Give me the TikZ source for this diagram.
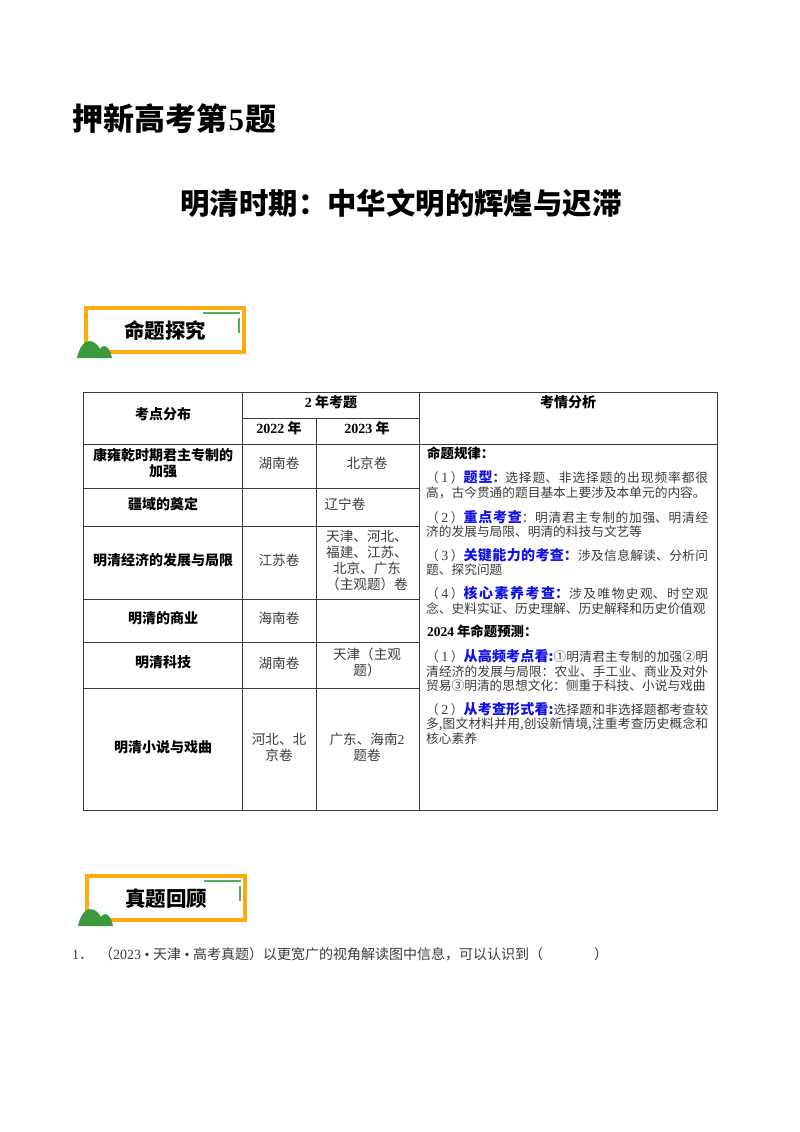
\documentclass[tikz,border=0pt]{standalone}
\usepackage{fontspec}
\setmainfont{Noto Sans CJK SC}
\newfontfamily\lat{Liberation Serif}
\XeTeXlinebreaklocale "zh"
\XeTeXlinebreakskip=0pt plus 2pt
\definecolor{framegold}{HTML}{FFAA0D}
\definecolor{hillgreen}{HTML}{3C9A3C}
\definecolor{tickgreen}{HTML}{55AE5A}
\definecolor{inkgray}{HTML}{3A3A3A}
\definecolor{keyblue}{HTML}{1010E8}
\newcommand{\yr}[1]{{\lat #1}}
\newcommand{\num}[1]{（\kern2.5pt{\lat\fontsize{14}{14.7}\selectfont #1}\kern2.5pt）}
\newcommand{\key}[1]{{\fontsize{14}{14.7}\selectfont\bfseries\color{keyblue}#1}}
\newcommand{\badge}[4]{%
  \begin{scope}[shift={(#1,#2)}]
    \draw[framegold, line width=4pt] (0,0) rectangle (158,44);
    \draw[tickgreen, line width=1.4pt] (117,5) -- (154,5);
    \draw[tickgreen, line width=1.4pt] (153,10) -- (153,25);
    \fill[hillgreen] (-9,50) .. controls (-7,40) and (-2,33) .. (3,33) .. controls (8,33) and (12,37) .. (14,41) .. controls (15,39) and (17,38) .. (18,38) .. controls (22,38) and (25,44) .. (26,50) -- cycle;
    \node[badgetext] (#3) at (79,23) {#4};
  \end{scope}}
\begin{document}
\begin{tikzpicture}[x=1pt, y=-1pt,
    rule/.style={draw=inkgray, line width=0.9pt},
    cell/.style={align=center, inner sep=0pt, text=inkgray, font=\fontsize{13.6}{16}\selectfont},
    head/.style={align=center, inner sep=0pt, font=\fontsize{14}{16}\selectfont\bfseries},
    para/.style={anchor=north west, inner sep=0pt, text width=282pt, align=justify, text=inkgray, font=\fontsize{12.7}{14.7}\selectfont},
    badgetext/.style={inner sep=0pt, font=\fontsize{20.5}{22}\selectfont\bfseries}]
  \useasboundingbox (0,0) rectangle (800,1132);
  \node[anchor=west, inner sep=0pt, font=\fontsize{31}{34}\selectfont\bfseries] (maintitle) at (72,119) {押新高考第\kern1.5pt\yr{5}\kern1.5pt题};
  \node[inner sep=0pt, font=\fontsize{29.4}{32}\selectfont\bfseries] (subtitle) at (401,203) {明清时期：中华文明的辉煌与迟滞};
  \badge{86}{308}{badgeone}{命题探究}
  \badge{87}{876}{badgetwo}{真题回顾}
  % table frame
  \draw[rule] (83,392) rectangle (717,810);
  \draw[rule] (242,392) -- (242,810);
  \draw[rule] (316,418) -- (316,810);
  \draw[rule] (419,392) -- (419,810);
  \draw[rule] (242,418) -- (419,418);
  \draw[rule] (83,444) -- (717,444);
  \foreach \rowy in {488,526,599,642,688}
    \draw[rule] (83,\rowy) -- (419,\rowy);
  % header
  \node[head] (points) at (163,414) {考点分布};
  \node[head] (twoyear) at (331,402) {\yr{2} 年考题};
  \node[head] (ytwo) at (279,428) {\yr{2022} 年};
  \node[head] (ythree) at (367,428) {\yr{2023} 年};
  \node[head] (analysis) at (568,402) {考情分析};
  % rows
  \node[head] (kang) at (163,463) {康雍乾时期君主专制的\\加强};
  \node[cell] (kangb) at (279,463) {湖南卷};
  \node[cell] (kangc) at (367,463) {北京卷};
  \node[head] (jiang) at (163,504) {疆域的奠定};
  \node[cell] (jiangc) at (345,504) {辽宁卷};
  \node[head] (econ) at (163,560) {明清经济的发展与局限};
  \node[cell] (econb) at (279,560) {江苏卷};
  \node[cell] (econc) at (367,560) {天津、河北、\\福建、江苏、\\北京、广东\\（主观题）卷};
  \node[head] (trade) at (163,618) {明清的商业};
  \node[cell] (tradeb) at (279,618) {海南卷};
  \node[head] (tech) at (163,662) {明清科技};
  \node[cell] (techb) at (279,663) {湖南卷};
  \node[cell] (techc) at (367,662) {天津（主观\\题）};
  \node[head] (novel) at (163,747) {明清小说与戏曲};
  \node[cell] (novelb) at (279,747) {河北、北\\京卷};
  \node[cell] (novelc) at (367,747) {广东、海南\yr{2}\\题卷};
  % analysis column
  \node[para, text=black, font=\fontsize{13.4}{15}\selectfont\bfseries] (rules) at (427,447) {命题规律：};
  \node[para] (ruleone) at (426,471) {\num{1}\key{题型}\textbf{：}选择题、非选择题的出现频率都很高，古今贯通的题目基本上要涉及本单元的内容。};
  \node[para] (ruletwo) at (426,510) {\num{2}\key{重点考查}：明清君主专制的加强、明清经济的发展与局限、明清的科技与文艺等};
  \node[para] (rulethree) at (426,548) {\num{3}\key{关键能力的考查：}涉及信息解读、分析问题、探究问题};
  \node[para] (rulefour) at (426,586) {\num{4}\key{核心素养考查：}涉及唯物史观、时空观念、史料实证、历史理解、历史解释和历史价值观};
  \node[para, text=black, font=\fontsize{13.4}{15}\selectfont\bfseries] (forecast) at (427,625) {\yr{2024} 年命题预测：};
  \node[para] (foreone) at (426,649) {\num{1}\key{从高频考点看:}①明清君主专制的加强②明清经济的发展与局限：农业、手工业、商业及对外贸易③明清的思想文化：侧重于科技、小说与戏曲};
  \node[para] (foretwo) at (426,702) {\num{2}\key{从考查形式看:}选择题和非选择题都考查较多,图文材料并用,创设新情境,注重考查历史概念和核心素养};
  % question
  \node[anchor=west, inner sep=0pt, text=inkgray, font=\fontsize{14}{16}\selectfont] (question) at (72,954) {\yr{1}．\kern6pt（\yr{2023 • }天津\yr{ • }高考真题）以更宽广的视角解读图中信息，可以认识到（\hspace{51pt}）};
\end{tikzpicture}
\end{document}
